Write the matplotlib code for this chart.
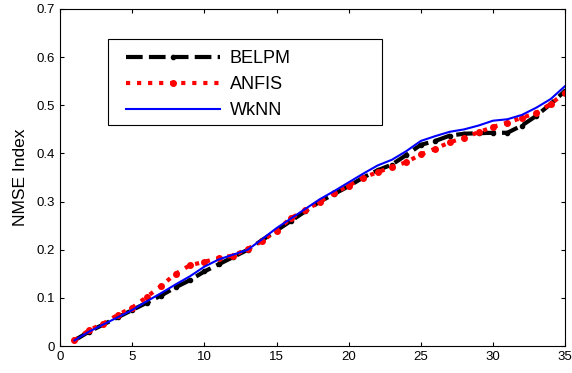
import matplotlib
matplotlib.use("Agg")
import matplotlib.pyplot as plt
from matplotlib.patches import Rectangle
import numpy as np

plt.rcParams["font.family"] = ["Liberation Sans", "DejaVu Sans"]

# sample index 1..35
x = np.arange(1, 36)

belpm = [0.012, 0.030, 0.045, 0.060, 0.075, 0.090, 0.105, 0.122, 0.137, 0.155,
         0.170, 0.185, 0.200, 0.220, 0.240, 0.260, 0.280, 0.300, 0.316, 0.332,
         0.350, 0.365, 0.377, 0.397, 0.418, 0.426, 0.437, 0.441, 0.442, 0.443,
         0.443, 0.458, 0.478, 0.503, 0.530]

anfis = [0.012, 0.033, 0.047, 0.065, 0.080, 0.102, 0.125, 0.150, 0.168, 0.175,
         0.183, 0.188, 0.202, 0.218, 0.240, 0.266, 0.282, 0.300, 0.318, 0.333,
         0.350, 0.361, 0.372, 0.382, 0.398, 0.410, 0.423, 0.433, 0.444, 0.455,
         0.464, 0.474, 0.484, 0.503, 0.526]

wknn = [0.012, 0.030, 0.045, 0.060, 0.075, 0.093, 0.110, 0.128, 0.145, 0.165,
        0.180, 0.190, 0.200, 0.222, 0.245, 0.265, 0.285, 0.305, 0.322, 0.340,
        0.358, 0.375, 0.387, 0.405, 0.426, 0.436, 0.445, 0.450, 0.458, 0.468,
        0.471, 0.480, 0.495, 0.513, 0.540]

fig = plt.figure(figsize=(5.72, 3.73), dpi=100)
ax = fig.add_axes([0.105, 0.072, 0.883, 0.904])

ax.plot(x, belpm, color="black", linestyle="--", linewidth=3, marker=".",
        markersize=6, dashes=(4, 1.5), label="BELPM")
ax.plot(x, anfis, color="red", linestyle=":", linewidth=3, marker=".",
        markersize=8, label="ANFIS")
ax.plot(x, wknn, color="blue", linestyle="-", linewidth=1.5, label="WkNN")

ax.set_xlim(0, 35)
ax.set_ylim(0, 0.7)
ax.set_xticks(np.arange(0, 36, 5))
ax.set_yticks(np.arange(0, 0.71, 0.1))
ax.set_yticklabels(["0", "0.1", "0.2", "0.3", "0.4", "0.5", "0.6", "0.7"])
ax.tick_params(direction="in", top=True, right=True, labelsize=9.5, length=3)
ax.set_ylabel("NMSE Index", fontsize=12.5, labelpad=6)

# legend box drawn separately so the entries can sit inside with a margin
ax.add_patch(Rectangle((0.095, 0.656), 0.543, 0.255, transform=ax.transAxes,
                       facecolor="white", edgecolor="black", linewidth=0.8,
                       zorder=4))
leg = ax.legend(loc="upper left", bbox_to_anchor=(0.1307, 0.878), numpoints=1,
                handlelength=5.2, handletextpad=0.55, frameon=False,
                fontsize=13, labelspacing=0.5, borderpad=0, borderaxespad=0)
leg.set_zorder(5)

fig.savefig("out.png", dpi=100)
